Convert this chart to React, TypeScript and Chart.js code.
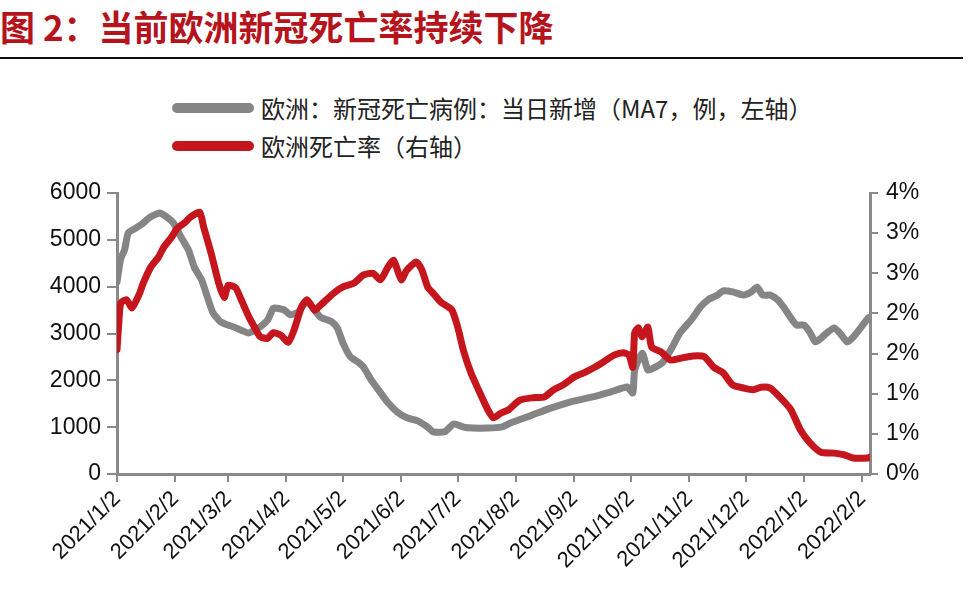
import React, { useEffect, useRef } from "react";
import { Chart, registerables } from "chart.js";

Chart.register(...registerables);

// x positions are days since 2021/1/2
const monthLabels = [
  "2021/1/2", "2021/2/2", "2021/3/2", "2021/4/2", "2021/5/2", "2021/6/2", "2021/7/2",
  "2021/8/2", "2021/9/2", "2021/10/2", "2021/11/2", "2021/12/2", "2022/1/2", "2022/2/2",
];

const deathsDay = [
  0, 2, 4, 6, 10, 14, 17, 21, 23, 27, 30, 34, 38, 41, 45, 48, 51, 55, 59, 62, 66, 70, 73, 76, 80,
  83, 85, 89, 92, 96, 99, 101, 105, 108, 114, 117, 120, 124, 128, 131, 135, 139, 144, 149, 154,
  160, 165, 168, 174, 179, 184, 189, 197, 204, 209, 220, 230, 241, 252, 262, 271, 274, 275, 279,
  282, 285, 290, 295, 299, 305, 310, 314, 319, 322, 327, 333, 337, 340, 343, 347, 351, 354, 358,
  361, 365, 368, 371, 374, 377, 381, 384, 388, 391, 395, 399, 400,
];
const deathsMA7 = [
  4100, 4600, 4780, 5150, 5250, 5360, 5470, 5550, 5570, 5470, 5360, 5060, 4780, 4420, 4140, 3780,
  3440, 3250, 3180, 3140, 3070, 3010, 3070, 3140, 3290, 3540, 3540, 3500, 3400, 3450, 3600, 3700,
  3500, 3350, 3250, 3120, 2800, 2500, 2390, 2280, 2010, 1790, 1520, 1320, 1200, 1130, 1000, 900,
  900, 1070, 1000, 980, 980, 1000, 1090, 1250, 1400, 1540, 1640, 1750, 1860, 1730, 2220, 2580,
  2220, 2260, 2390, 2710, 3010, 3290, 3570, 3720, 3820, 3910, 3890, 3820, 3890, 3990, 3820, 3820,
  3720, 3570, 3330, 3180, 3180, 3030, 2820, 2900, 3010, 3120, 3010, 2820, 2920, 3120, 3330, 3350,
];

const rateDay = [
  0, 1, 2, 5, 8, 12, 14, 18, 22, 25, 29, 32, 36, 39, 44, 46, 50, 54, 57, 59, 63, 66, 70, 73, 76,
  80, 83, 87, 91, 94, 98, 101, 105, 108, 115, 120, 126, 131, 136, 140, 144, 147, 151, 154, 159,
  162, 165, 168, 172, 176, 178, 181, 184, 188, 192, 197, 200, 204, 208, 214, 221, 227, 232, 237,
  243, 248, 253, 258, 264, 269, 272, 274, 275, 277, 279, 282, 284, 289, 294, 299, 306, 312, 317,
  322, 327, 333, 338, 342, 347, 352, 358, 363, 368, 374, 381, 386, 391, 399, 400,
];
const deathRate = [
  1.55, 1.9, 2.13, 2.17, 2.07, 2.25, 2.38, 2.58, 2.7, 2.83, 2.95, 3.06, 3.13, 3.2, 3.26, 3.08,
  2.75, 2.38, 2.2, 2.35, 2.32, 2.17, 1.96, 1.83, 1.71, 1.69, 1.76, 1.73, 1.64, 1.79, 2.08, 2.17,
  2.04, 2.1, 2.25, 2.33, 2.38, 2.48, 2.5, 2.42, 2.58, 2.66, 2.42, 2.54, 2.64, 2.54, 2.33, 2.25,
  2.14, 2.08, 2.04, 1.83, 1.54, 1.26, 1.05, 0.8, 0.7, 0.76, 0.8, 0.92, 0.95, 0.96, 1.05, 1.11,
  1.21, 1.26, 1.32, 1.39, 1.48, 1.51, 1.48, 1.33, 1.76, 1.82, 1.71, 1.83, 1.58, 1.52, 1.42, 1.44,
  1.47, 1.46, 1.33, 1.26, 1.11, 1.07, 1.05, 1.08, 1.07, 0.96, 0.8, 0.55, 0.39, 0.27, 0.26, 0.24,
  0.2, 0.2, 0.21,
];

const leftTickMax = 6000;
const rightTickMax = 3.5;

const START = Date.UTC(2021, 0, 2);
const labelToDay = (s: string) => {
  const [y, m, d] = s.split("/").map(Number);
  return Math.round((Date.UTC(y, m - 1, d) - START) / 86400000);
};
const monthDays = monthLabels.map(labelToDay);

const GRAY = "#858585";
const RED = "#C4161C";
const AXIS = "#8a8a8a";
const TICKFONT = "'Liberation Sans', Arial, sans-serif";
const CJK = "'Noto Sans CJK SC', sans-serif";

export default function App() {
  const ref = useRef<HTMLCanvasElement>(null);

  useEffect(() => {
    if (!ref.current) return;
    const chart = new Chart(ref.current, {
      type: "line",
      data: {
        datasets: [
          {
            label: "欧洲死亡率（右轴）",
            data: rateDay.map((d, i) => ({ x: d, y: deathRate[i] })),
            borderColor: RED,
            borderWidth: 7,
            pointRadius: 0,
            tension: 0.2,
            borderJoinStyle: "round",
            borderCapStyle: "round",
            yAxisID: "y1",
          },
          {
            label: "欧洲：新冠死亡病例：当日新增（MA7，例，左轴）",
            data: deathsDay.map((d, i) => ({ x: d, y: deathsMA7[i] })),
            borderColor: GRAY,
            borderWidth: 7,
            pointRadius: 0,
            tension: 0.2,
            borderJoinStyle: "round",
            borderCapStyle: "round",
            yAxisID: "y",
          },
        ],
      },
      options: {
        animation: false,
        responsive: false,
        devicePixelRatio: 1,
        layout: { padding: { left: 0, right: 0, top: 23, bottom: 0 } },
        plugins: { legend: { display: false }, tooltip: { enabled: false } },
        scales: {
          x: {
            type: "linear",
            min: 0,
            max: 400,
            afterBuildTicks: (s: any) => {
              s.ticks = monthDays.map((v) => ({ value: v }));
            },
            afterFit: (s: any) => {
              s.height = 128;
            },
            ticks: {
              autoSkip: false,
              minRotation: 45,
              maxRotation: 45,
              padding: 4,
              color: "#111",
              font: { family: TICKFONT, size: 22 },
              callback: (v: any) => {
                const i = monthDays.indexOf(Number(v));
                return i >= 0 ? monthLabels[i] : "";
              },
            },
            grid: {
              display: true,
              drawOnChartArea: false,
              drawTicks: true,
              tickLength: 8,
              color: AXIS,
              lineWidth: 2,
            },
            border: { display: true, color: AXIS, width: 3 },
          },
          y: {
            position: "left",
            min: 0,
            max: leftTickMax,
            afterFit: (s: any) => {
              s.width = 117;
            },
            ticks: {
              stepSize: 1000,
              padding: 6,
              color: "#111",
              font: { family: TICKFONT, size: 23 },
              callback: (v: any) => String(v),
            },
            grid: {
              display: true,
              drawOnChartArea: false,
              drawTicks: true,
              tickLength: 10,
              color: AXIS,
              lineWidth: 2,
            },
            border: { display: true, color: AXIS, width: 3 },
          },
          y1: {
            position: "right",
            min: 0,
            max: rightTickMax,
            afterFit: (s: any) => {
              s.width = 108;
            },
            ticks: {
              stepSize: 0.5,
              padding: 8,
              color: "#111",
              font: { family: TICKFONT, size: 23 },
              callback: (v: any) => Math.round(Number(v)) + "%",
            },
            grid: {
              display: true,
              drawOnChartArea: false,
              drawTicks: true,
              tickLength: 8,
              color: AXIS,
              lineWidth: 2,
            },
            border: { display: true, color: AXIS, width: 3 },
          },
        },
      },
    } as any);
    return () => chart.destroy();
  }, []);

  return (
    <div
      style={{
        position: "absolute",
        left: 0,
        top: 0,
        width: 978,
        height: 602,
        background: "#fff",
        overflow: "hidden",
      }}
    >
      <div
        style={{
          position: "absolute",
          left: 0,
          top: 4,
          fontFamily: CJK,
          fontWeight: 700,
          fontSize: 35,
          lineHeight: "44px",
          color: "#B5141C",
          whiteSpace: "nowrap",
        }}
      >
        图 2：当前欧洲新冠死亡率持续下降
      </div>
      <div
        style={{
          position: "absolute",
          left: 0,
          top: 57,
          width: 963,
          height: 2,
          background: "#111",
        }}
      />
      <div
        style={{
          position: "absolute",
          left: 172,
          top: 103,
          width: 82,
          height: 10,
          borderRadius: 5,
          background: GRAY,
        }}
      />
      <div
        style={{
          position: "absolute",
          left: 261,
          top: 93,
          fontFamily: CJK,
          fontSize: 24,
          lineHeight: "30px",
          color: "#222",
          whiteSpace: "nowrap",
        }}
      >
        欧洲：新冠死亡病例：当日新增（MA7，例，左轴）
      </div>
      <div
        style={{
          position: "absolute",
          left: 172,
          top: 141,
          width: 82,
          height: 10,
          borderRadius: 5,
          background: RED,
        }}
      />
      <div
        style={{
          position: "absolute",
          left: 261,
          top: 131,
          fontFamily: CJK,
          fontSize: 24,
          lineHeight: "30px",
          color: "#222",
          whiteSpace: "nowrap",
        }}
      >
        欧洲死亡率（右轴）
      </div>
      <div style={{ position: "absolute", left: 0, top: 170, width: 978, height: 432 }}>
        <canvas ref={ref} width={978} height={432} style={{ width: 978, height: 432 }} />
      </div>
    </div>
  );
}
